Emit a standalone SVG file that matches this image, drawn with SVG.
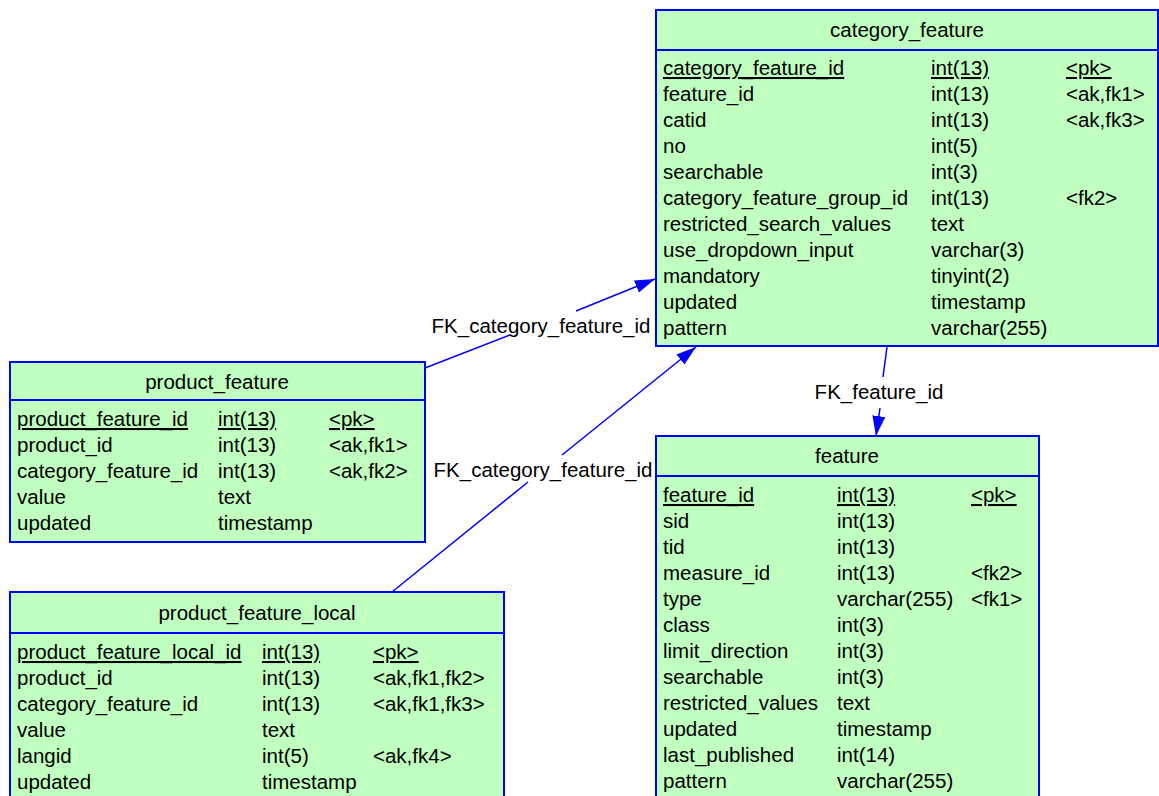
<svg xmlns="http://www.w3.org/2000/svg" width="1159" height="796" viewBox="0 0 1159 796">
<style>
.box{fill:#C0FFC0;stroke:#0000FF;stroke-width:2}
.sep{stroke:#0000FF;stroke-width:2}
text{font-family:"Liberation Sans",Arial,sans-serif;font-size:20.5px;fill:#000}
.t{text-anchor:middle}
.pk{text-decoration:underline}
.con{fill:none;stroke:#0000FF;stroke-width:1.5}
</style>
<defs>
<marker id="arr" markerUnits="userSpaceOnUse" markerWidth="22" markerHeight="14" refX="20" refY="6.5" orient="auto">
<path d="M0,0 L20,6.5 L0,13 z" fill="#0000FF"/>
</marker>
</defs>
<rect width="1159" height="796" fill="#fff"/>
<g id="connectors">
<path class="con" d="M425,368 L510,335 M576,311 L655,279" marker-end="url(#arr)"/>
<text x="541" y="333" class="t">FK_category_feature_id</text>
<path class="con" d="M392,592 L528,482 M562,455 L696,347" marker-end="url(#arr)"/>
<text x="543" y="477" class="t">FK_category_feature_id</text>
<path class="con" d="M887,347 L883,377 M880,408 L876,436" marker-end="url(#arr)"/>
<text x="879" y="399" class="t">FK_feature_id</text>
</g>
<g id="category_feature">
<rect class="box" x="656" y="10" width="502" height="336"/>
<line class="sep" x1="656" y1="50" x2="1158" y2="50"/>
<text x="907" y="37" class="t">category_feature</text>
<text x="663" y="75" class="pk">category_feature_id</text><text x="931" y="75" class="pk">int(13)</text><text x="1066" y="75" class="pk">&lt;pk&gt;</text>
<text x="663" y="101">feature_id</text><text x="931" y="101">int(13)</text><text x="1066" y="101">&lt;ak,fk1&gt;</text>
<text x="663" y="127">catid</text><text x="931" y="127">int(13)</text><text x="1066" y="127">&lt;ak,fk3&gt;</text>
<text x="663" y="153">no</text><text x="931" y="153">int(5)</text>
<text x="663" y="179">searchable</text><text x="931" y="179">int(3)</text>
<text x="663" y="205">category_feature_group_id</text><text x="931" y="205">int(13)</text><text x="1066" y="205">&lt;fk2&gt;</text>
<text x="663" y="231">restricted_search_values</text><text x="931" y="231">text</text>
<text x="663" y="257">use_dropdown_input</text><text x="931" y="257">varchar(3)</text>
<text x="663" y="283">mandatory</text><text x="931" y="283">tinyint(2)</text>
<text x="663" y="309">updated</text><text x="931" y="309">timestamp</text>
<text x="663" y="335">pattern</text><text x="931" y="335">varchar(255)</text>
</g>
<g id="product_feature">
<rect class="box" x="10" y="362" width="415" height="180"/>
<line class="sep" x1="10" y1="400" x2="425" y2="400"/>
<text x="217" y="389" class="t">product_feature</text>
<text x="17" y="426" class="pk">product_feature_id</text><text x="218" y="426" class="pk">int(13)</text><text x="329" y="426" class="pk">&lt;pk&gt;</text>
<text x="17" y="452">product_id</text><text x="218" y="452">int(13)</text><text x="329" y="452">&lt;ak,fk1&gt;</text>
<text x="17" y="478">category_feature_id</text><text x="218" y="478">int(13)</text><text x="329" y="478">&lt;ak,fk2&gt;</text>
<text x="17" y="504">value</text><text x="218" y="504">text</text>
<text x="17" y="530">updated</text><text x="218" y="530">timestamp</text>
</g>
<g id="product_feature_local">
<rect class="box" x="10" y="592" width="494" height="240"/>
<line class="sep" x1="10" y1="633" x2="504" y2="633"/>
<text x="257" y="620" class="t">product_feature_local</text>
<text x="17" y="659" class="pk">product_feature_local_id</text><text x="262" y="659" class="pk">int(13)</text><text x="373" y="659" class="pk">&lt;pk&gt;</text>
<text x="17" y="685">product_id</text><text x="262" y="685">int(13)</text><text x="373" y="685">&lt;ak,fk1,fk2&gt;</text>
<text x="17" y="711">category_feature_id</text><text x="262" y="711">int(13)</text><text x="373" y="711">&lt;ak,fk1,fk3&gt;</text>
<text x="17" y="737">value</text><text x="262" y="737">text</text>
<text x="17" y="763">langid</text><text x="262" y="763">int(5)</text><text x="373" y="763">&lt;ak,fk4&gt;</text>
<text x="17" y="789">updated</text><text x="262" y="789">timestamp</text>
</g>
<g id="feature">
<rect class="box" x="656" y="436" width="383" height="400"/>
<line class="sep" x1="656" y1="476" x2="1039" y2="476"/>
<text x="847" y="463" class="t">feature</text>
<text x="663" y="502" class="pk">feature_id</text><text x="837" y="502" class="pk">int(13)</text><text x="971" y="502" class="pk">&lt;pk&gt;</text>
<text x="663" y="528">sid</text><text x="837" y="528">int(13)</text>
<text x="663" y="554">tid</text><text x="837" y="554">int(13)</text>
<text x="663" y="580">measure_id</text><text x="837" y="580">int(13)</text><text x="971" y="580">&lt;fk2&gt;</text>
<text x="663" y="606">type</text><text x="837" y="606">varchar(255)</text><text x="971" y="606">&lt;fk1&gt;</text>
<text x="663" y="632">class</text><text x="837" y="632">int(3)</text>
<text x="663" y="658">limit_direction</text><text x="837" y="658">int(3)</text>
<text x="663" y="684">searchable</text><text x="837" y="684">int(3)</text>
<text x="663" y="710">restricted_values</text><text x="837" y="710">text</text>
<text x="663" y="736">updated</text><text x="837" y="736">timestamp</text>
<text x="663" y="762">last_published</text><text x="837" y="762">int(14)</text>
<text x="663" y="788">pattern</text><text x="837" y="788">varchar(255)</text>
</g>
</svg>
